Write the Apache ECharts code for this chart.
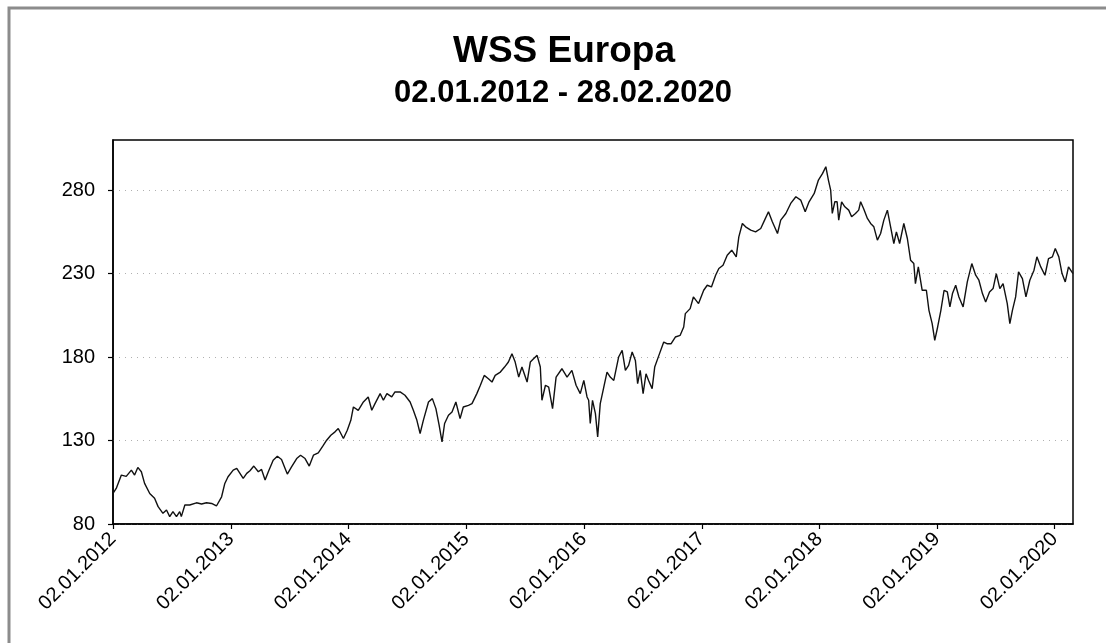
<!DOCTYPE html>
<html>
<head>
<meta charset="utf-8">
<script src="https://cdn.jsdelivr.net/npm/echarts@6/dist/echarts.min.js"></script>
<style>
html,body{margin:0;padding:0;background:#fff;}
#chart{width:1106px;height:643px;}
</style>
</head>
<body>
<div id="chart"></div>
<script>
// ---- data ----
const titleText = 'WSS Europa';
const subtitleText = '02.01.2012 - 28.02.2020';
const startDate = '2012-01-02';
const endDate = '2020-02-28';
const tickDates = ['2012-01-02','2013-01-02','2014-01-02','2015-01-02','2016-01-02','2017-01-02','2018-01-02','2019-01-02','2020-01-02'];
const yTicks = [80, 130, 180, 230, 280];

const dates = [
'2012-01-02','2012-01-12','2012-01-28','2012-02-12','2012-02-28','2012-03-09','2012-03-19','2012-03-30','2012-04-09','2012-04-25',
'2012-05-10','2012-05-21','2012-06-05','2012-06-16','2012-06-26','2012-07-06','2012-07-17','2012-07-27','2012-08-01','2012-08-12',
'2012-08-27','2012-09-17','2012-10-03','2012-10-18','2012-11-03','2012-11-18','2012-12-04','2012-12-14','2012-12-24',
'2013-01-09','2013-01-20','2013-01-30','2013-02-09','2013-02-20','2013-03-02','2013-03-14','2013-03-28','2013-04-07','2013-04-18',
'2013-04-28','2013-05-13','2013-05-26','2013-06-08','2013-06-19','2013-06-26','2013-07-09','2013-07-25','2013-08-06','2013-08-20',
'2013-09-02','2013-09-15','2013-09-30','2013-10-14','2013-10-26','2013-11-08','2013-11-21','2013-12-01','2013-12-17','2013-12-29',
'2014-01-09','2014-01-17','2014-02-01','2014-02-17','2014-03-04','2014-03-15','2014-03-25','2014-04-10','2014-04-20','2014-05-01',
'2014-05-16','2014-05-26','2014-06-11','2014-06-26','2014-07-12','2014-07-22','2014-08-02','2014-08-12','2014-08-22','2014-09-07',
'2014-09-19','2014-09-30','2014-10-10','2014-10-19','2014-10-27','2014-11-08','2014-11-19','2014-12-01','2014-12-14','2014-12-24',
'2015-01-09','2015-01-20','2015-02-04','2015-02-15','2015-02-27','2015-03-12','2015-03-23','2015-04-02','2015-04-18','2015-05-01',
'2015-05-13','2015-05-24','2015-06-03','2015-06-14','2015-06-24','2015-07-10','2015-07-20','2015-07-30','2015-08-10','2015-08-20',
'2015-08-25','2015-09-05','2015-09-15','2015-09-27','2015-10-08','2015-10-26','2015-11-11','2015-11-26','2015-12-09','2015-12-22',
'2016-01-02','2016-01-12','2016-01-17','2016-01-22','2016-01-29','2016-02-07','2016-02-14','2016-02-22','2016-03-04','2016-03-14',
'2016-03-24','2016-04-04','2016-04-19','2016-04-30','2016-05-10','2016-05-20','2016-05-31','2016-06-10','2016-06-17','2016-06-25',
'2016-07-04','2016-07-13','2016-07-21','2016-08-01','2016-08-09','2016-08-22','2016-09-06','2016-09-16','2016-09-29','2016-10-12',
'2016-10-27','2016-11-07','2016-11-12','2016-11-27','2016-12-07','2016-12-23',
'2017-01-08','2017-01-19','2017-02-01','2017-02-14','2017-02-24','2017-03-09','2017-03-22','2017-04-05','2017-04-19','2017-04-27',
'2017-05-08','2017-05-18','2017-06-03','2017-06-18','2017-07-04','2017-07-16','2017-07-28','2017-08-09','2017-08-25','2017-09-04',
'2017-09-20','2017-10-05','2017-10-21','2017-11-05','2017-11-19','2017-12-01','2017-12-17','2017-12-30',
'2018-01-12','2018-01-22','2018-01-30','2018-02-06','2018-02-11','2018-02-19','2018-02-26','2018-03-03','2018-03-12','2018-03-22',
'2018-04-03','2018-04-12','2018-04-24','2018-05-04','2018-05-10','2018-05-20','2018-05-31','2018-06-10','2018-06-20','2018-07-01',
'2018-07-11','2018-07-21','2018-08-01','2018-08-11','2018-08-21','2018-08-29','2018-09-08','2018-09-21','2018-10-02','2018-10-12',
'2018-10-22','2018-10-27','2018-11-05','2018-11-17','2018-11-30','2018-12-08','2018-12-18','2018-12-26',
'2019-01-04','2019-01-14','2019-01-24','2019-02-03','2019-02-11','2019-02-19','2019-03-01','2019-03-11','2019-03-24','2019-04-06',
'2019-04-20','2019-05-02','2019-05-12','2019-05-23','2019-06-02','2019-06-14','2019-06-25','2019-07-05','2019-07-16','2019-07-26',
'2019-08-08','2019-08-16','2019-08-24','2019-09-03','2019-09-12','2019-09-24','2019-10-05','2019-10-17','2019-10-30','2019-11-08',
'2019-11-20','2019-12-03','2019-12-14','2019-12-26',
'2020-01-04','2020-01-15','2020-01-25','2020-02-04','2020-02-14','2020-02-28'
];

const values = [
98.3,101.3,109.3,108.5,112.3,109.3,113.9,111.3,104.3,98.3,
95.4,90.4,86.4,88.4,84.4,87.4,84.4,87.4,84.4,91.4,
91.4,92.7,92.0,92.7,92.3,90.8,96.3,104.3,108.3,
112.3,113.3,110.3,107.3,110.3,111.9,114.7,111.3,112.7,106.3,
111.3,118.2,120.6,118.6,113.3,109.9,114.2,119.2,121.2,119.2,
114.7,121.2,122.6,126.6,130.2,133.2,135.2,137.2,131.2,136.2,
142.1,150.1,148.1,153.1,156.1,148.1,152.1,158.1,154.1,158.1,
156.1,159.1,159.1,157.1,153.1,148.1,142.1,134.2,142.1,153.1,
155.1,149.1,139.2,129.2,140.2,145.1,147.1,153.1,143.1,150.1,
151.1,152.1,158.1,163.1,169.0,167.0,165.0,169.0,171.0,174.0,
177.0,182.0,177.0,168.0,174.0,165.0,177.0,179.0,181.0,174.0,
154.1,163.1,162.0,149.1,168.0,173.0,168.0,172.0,163.1,158.1,
166.0,156.1,154.1,140.2,154.1,146.1,132.2,152.1,162.0,171.0,
168.0,166.0,180.0,184.0,172.0,175.0,183.0,178.0,164.1,172.0,
158.1,170.0,166.0,161.1,174.0,181.0,189.0,188.0,188.0,192.0,
193.0,198.0,206.0,209.0,216.0,212.0,
220,223,222,229,233,235,241,244,240,252,
260,258,256,255,257,262,267,261,254,262,
266,272,276,274,267,273,278,286,
290,294,286,280,266,273,273,262,273,270,
268,264,266,268,273,268.5,263,260,258,250,
254,262,268,258,248,255,248,260,251,238,
236,224,234,220,220,208,200,190,
198,208,220,219,210,218,223,216,210,225,
236,229,226,218,213,219,221,230,221,224,
212,200,208,216,231,227,216,226,232,240,
234,229,239,240,
245,240,230,225,234,230
];

// ---- helpers ----
function toTime(s) {
  const p = s.split('-').map(Number);
  return new Date(p[0], p[1] - 1, p[2]).getTime();
}
function pad(n) { return (n < 10 ? '0' : '') + n; }
function fmtDate(v) {
  const d = new Date(v);
  return pad(d.getDate()) + '.' + pad(d.getMonth() + 1) + '.' + d.getFullYear();
}

const seriesData = dates.map((d, i) => [toTime(d), values[i]]);
const tickTimes = tickDates.map(toTime);
const FONT = '"Liberation Sans", Arial, Helvetica, sans-serif';

const chart = echarts.init(document.getElementById('chart'), null, {renderer: 'canvas'});
chart.setOption({
  animation: false,
  backgroundColor: '#ffffff',
  title: [
    {
      text: titleText, left: 559, top: 28, textAlign: 'center',
      textStyle: {fontFamily: FONT, fontSize: 37, fontWeight: 'bold', color: '#000'}
    },
    {
      text: subtitleText, left: 558, top: 73, textAlign: 'center',
      textStyle: {fontFamily: FONT, fontSize: 31, fontWeight: 'bold', color: '#000'}
    }
  ],
  graphic: [
    {
      type: 'rect', silent: true, z: -1,
      shape: {x: 9, y: 8, width: 1300, height: 900},
      style: {fill: 'none', stroke: '#8c8c8c', lineWidth: 3}
    }
  ],
  grid: {
    left: 113, right: 33, top: 140, bottom: 119,
    show: true, borderColor: '#000', borderWidth: 1.5, containLabel: false
  },
  xAxis: {
    type: 'value',
    min: toTime(startDate),
    max: toTime(endDate),
    axisLine: {show: true, onZero: false, lineStyle: {color: '#000', width: 1.5}},
    axisTick: {show: true, customValues: tickTimes, length: 5, inside: false, lineStyle: {color: '#000', width: 1.2}},
    axisLabel: {
      customValues: tickTimes,
      rotate: 45, margin: 12,
      fontFamily: FONT, fontSize: 20, color: '#000',
      formatter: function (v) { return fmtDate(v); },
      hideOverlap: false
    },
    splitLine: {show: false},
    minorTick: {show: false}
  },
  yAxis: {
    type: 'value',
    min: 80, max: 310, interval: 50,
    axisLine: {show: true, lineStyle: {color: '#000', width: 1.5}},
    axisTick: {show: true, customValues: yTicks, length: 5, inside: false, lineStyle: {color: '#000', width: 1.2}},
    axisLabel: {
      customValues: yTicks,
      margin: 18,
      fontFamily: FONT, fontSize: 20, color: '#000'
    },
    splitLine: {show: true, lineStyle: {color: '#b0b0b0', width: 1, type: [1, 5]}}
  },
  series: [
    {
      type: 'line',
      data: seriesData,
      showSymbol: false,
      symbol: 'none',
      smooth: false,
      lineStyle: {color: '#111', width: 1.4},
      silent: true
    }
  ]
});
</script>
</body>
</html>
